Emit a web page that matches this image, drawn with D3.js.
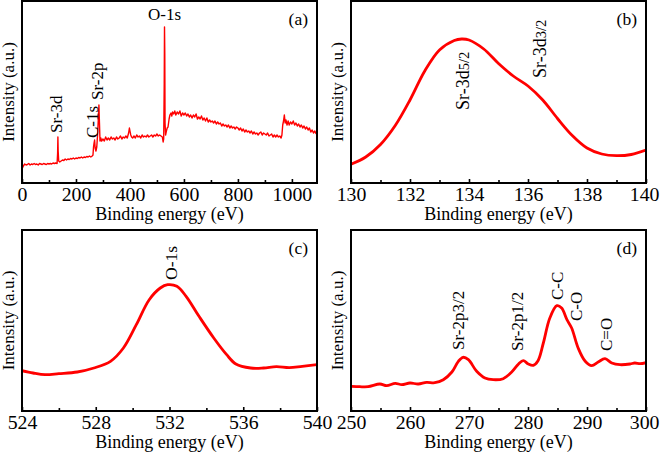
<!DOCTYPE html>
<html>
<head>
<meta charset="utf-8">
<script src="https://cdn.jsdelivr.net/npm/d3@7"></script>
<style>
  html, body { margin: 0; padding: 0; background: #fff; }
  svg { display: block; font-family: "Liberation Serif", "Times New Roman", serif; }
</style>
</head>
<body>
<svg id="chart" width="661" height="456"></svg>
<script>
// ---------------- DATA ----------------
// (a) XPS survey spectrum
const surveyEnergy = [0,5,10,15,20,25,30,35,40,45,50,55,60,65,70,75,80,85,90,95,100,105,110,115,120,125,130,132,133,134,136,140,145,150,155,160,165,170,175,180,185,190,195,200,205,210,215,220,225,230,235,240,245,250,255,260,263,265,267,269,271,274,277,280,283,285,287,289,292,295,300,305,310,315,320,325,330,335,340,345,350,355,360,365,370,375,380,385,390,395,398,400,403,406,410,415,420,425,430,435,440,445,450,455,460,465,470,475,480,485,490,495,500,505,510,515,520,523,525,527,528,529,530,532,535,538,541,545,548,552,555,558,562,566,570,575,580,585,590,595,600,605,610,615,620,625,630,635,640,645,650,655,660,665,670,675,680,685,690,695,700,705,710,715,720,725,730,735,740,745,750,755,760,765,770,775,780,785,790,795,800,805,810,815,820,825,830,835,840,845,850,855,860,865,870,875,880,885,890,895,900,905,910,915,920,925,930,935,940,945,950,955,960,963,966,969,972,975,978,982,986,990,995,1000,1005,1010,1015,1020,1025,1030,1035,1040,1045,1050,1055,1060,1065,1070,1075,1080,1085,1090];
const surveyIntensity = [14,17,19,18,18.5,19.5,18,19,18.5,19.5,18.5,19,18,19.5,19,18.5,19.5,19,18.5,19.5,19,19.5,19,20,19.5,20,19.5,30,46,32,22,21,22,23,22.5,24,23,24,23.5,24.5,24,25,24,25,24.5,25.5,25,26,25,26,25.5,26.5,26,27,26,27,28,36,40,43,35,32,36,48,65,78,60,42,45,42,44,42,46,43,45,43,46,44,45,43,46,44,45,47,44,46,45,47,45,50,55,52,48,46,45,47,45,48,46,47,45,48,46,47,46,48,46,47,48,46,48,47,49,47,48,47,46,41,44,100,156,130,60,48,52,55,56,64,68,70,67,71,69,72,68,71,69,72,67,70,68,70,67,69,66,68,65,68,66,69,64,66,64,67,63,65,62,65,61,63,61,62,60,62,59,61,59,60,57,59,57,58,56,58,55,57,55,56,54,56,55,53,55,52,54,51,53,51,52,50,52,49,51,49,50,48,50,51,48,50,49,48,50,47,48,49,46,48,46,48,46,47,45,48,58,62,68,60,63,58,62,58,61,59,62,58,60,57,59,56,58,55,57,54,56,53,55,51,53,50,52,49];

// (b) Sr-3d high-resolution spectrum
const sr3dEnergy = [130,130.5,131,131.5,132,132.5,133,133.5,133.75,134,134.5,135,135.5,136,136.5,137,137.5,138,138.5,139,139.5,140];
const sr3dIntensity = [18.7,26,38.5,57.5,83,112,133,142.5,144,143,134,119.5,107,97,83,64.5,47.5,35,29,27.3,28.5,33];

// (c) O-1s high-resolution spectrum
const o1sEnergy = [524,524.6,525.25,526,527,527.9,528.8,529.5,530.2,530.9,531.5,531.9,532.4,532.9,533.6,534.4,535.1,535.6,536.4,537.1,537.8,538.5,539.2,540];
const o1sIntensity = [40.3,38,36.3,37.3,39,43,49.7,63,86.3,111.3,123,126.3,124.7,114.7,94.7,73,56.3,47,43,43,44.3,43.3,44.7,46.3];

// (d) C-1s / Sr-2p high-resolution spectrum
const c1sEnergy = [250.1,251.5,252.9,254.9,256.05,257.5,258.6,260,261.4,262.8,264.2,265.65,267.1,268.2,269,269.9,271.3,272.7,274.1,275.8,277.2,278.4,279.2,280.05,280.9,281.7,282.6,283.7,284.9,285.7,286.6,287.4,288.5,289.7,290.8,291.9,293.05,294.2,295.6,297.3,298.1,299,300];
const c1sIntensity = [24.7,24.3,24.3,27,25.3,27.7,26.3,28,27,28.7,28.3,31.3,39,49.7,53.7,51.3,39.7,33,31.3,32.3,38.7,47,50.3,47,45.7,50.3,68,93,105.3,103,91.3,83,63,49.7,45.3,49,52.3,48,46.3,47,48,47.3,48.3];

// tick values
const surveyTicks = [0,200,400,600,800,1000];
const surveyMinor = [100,300,500,700,900];
const sr3dTicks = [130,132,134,136,138,140];
const sr3dMinor = [131,133,135,137,139];
const o1sTicks = [524,528,532,536,540];
const o1sMinor = [526,530,534,538];
const c1sTicks = [250,260,270,280,290,300];
const c1sMinor = [255,265,275,285,295];

// text
const panelLetters = ["(a)", "(b)", "(c)", "(d)"];
const xTitle = "Binding energy (eV)";
const yTitle = "Intensity (a.u.)";
// peak labels: [main text, suffix, energy, intensity]  (rotated, text starts at the point)
const surveyLabels = [["Sr-3d","",148,50],["C-1s","",280,45],["Sr-2p","",300,83]];
const sr3dLabels = [["Sr-3d","5/2",134.0,73],["Sr-3d","3/2",136.6,105]];
const o1sLabels = [["O-1s","",532.4,131]];
const c1sLabels = [["Sr-2p","3/2",269.1,61],["Sr-2p","1/2",279.2,60],["C-C","",285.9,111],["C-O","",289.15,90],["C=O","",294.2,60]];

// ---------------- DRAW ----------------
const svg = d3.select("#chart");
const RED = "#ff0000";
const W = 661;
const TICK_SX = 1.1;

const panels = [
  {x0:22, x1:317, y0:1, y1:183, dom:[0,1093], yDom:[0,182], e:surveyEnergy, v:surveyIntensity, ticks:surveyTicks, minor:surveyMinor, labels:surveyLabels, lw:1.4, letter:panelLetters[0], curve:d3.curveLinear, main:17, sub:17},
  {x0:351, x1:646, y0:1, y1:183, dom:[130,140], yDom:[0,182], e:sr3dEnergy, v:sr3dIntensity, ticks:sr3dTicks, minor:sr3dMinor, labels:sr3dLabels, lw:2.8, letter:panelLetters[1], curve:d3.curveCatmullRom, main:18, sub:14.5},
  {x0:22, x1:317, y0:230, y1:411, dom:[524,540], yDom:[0,181], e:o1sEnergy, v:o1sIntensity, ticks:o1sTicks, minor:o1sMinor, labels:o1sLabels, lw:2.8, letter:panelLetters[2], curve:d3.curveCatmullRom, main:17.5, sub:17},
  {x0:351, x1:646, y0:230, y1:411, dom:[250,300], yDom:[0,181], e:c1sEnergy, v:c1sIntensity, ticks:c1sTicks, minor:c1sMinor, labels:c1sLabels, lw:2.8, letter:panelLetters[3], curve:d3.curveCatmullRom, main:17, sub:17}
];

panels.forEach((p, idx) => {
  const x = d3.scaleLinear().domain(p.dom).range([p.x0, p.x1]);
  const y = d3.scaleLinear().domain(p.yDom).range([p.y1, p.y0]);
  const g = svg.append("g");

  const cid = "clip" + idx;
  svg.append("clipPath").attr("id", cid).append("rect")
    .attr("x", p.x0).attr("y", p.y0).attr("width", p.x1 - p.x0).attr("height", p.y1 - p.y0);

  const pts = p.e.map((e, i) => [e, p.v[i]]);
  g.append("path")
    .attr("clip-path", `url(#${cid})`)
    .attr("d", d3.line().x(d => x(d[0])).y(d => y(d[1])).curve(p.curve)(pts))
    .attr("fill", "none").attr("stroke", RED)
    .attr("stroke-width", p.lw).attr("stroke-linejoin", "round");

  // x axis major ticks (inward)
  const ax = g.append("g").attr("transform", `translate(0,${p.y1})`)
    .call(d3.axisBottom(x).tickValues(p.ticks).tickSize(-4).tickPadding(5).tickFormat(d3.format("d")));
  ax.select(".domain").remove();
  ax.selectAll(".tick line").attr("stroke", "#000").attr("stroke-width", 1.6);
  ax.selectAll(".tick text").attr("font-size", 18).attr("font-family", "Liberation Serif")
    .attr("fill", "#000").attr("transform", `scale(${TICK_SX},1)`);
  // keep edge labels inside the picture
  ax.selectAll(".tick").each(function(d) {
    const t = d3.select(this).select("text");
    const w = t.node().getComputedTextLength() * TICK_SX;
    const right = x(d) + w / 2;
    if (right > W - 2) t.attr("x", (W - 2 - right) / TICK_SX);
  });

  const mx = g.append("g").attr("transform", `translate(0,${p.y1})`)
    .call(d3.axisBottom(x).tickValues(p.minor).tickSize(-3).tickFormat(""));
  mx.select(".domain").remove();
  mx.selectAll(".tick line").attr("stroke", "#000").attr("stroke-width", 1.6);

  // frame
  g.append("rect").attr("x", p.x0).attr("y", p.y0)
    .attr("width", p.x1 - p.x0).attr("height", p.y1 - p.y0)
    .attr("fill", "none").attr("stroke", "#000").attr("stroke-width", 2);

  // x title
  g.append("text").attr("x", (p.x0 + p.x1) / 2).attr("y", p.y1 + 37)
    .attr("text-anchor", "middle").attr("font-size", 18).text(xTitle);

  // y title
  g.append("text")
    .attr("transform", `translate(${p.x0 - 8.5},${(p.y0 + p.y1) / 2}) rotate(-90)`)
    .attr("text-anchor", "middle").attr("font-size", 17).text(yTitle);

  // panel letter
  g.append("text").attr("x", p.x1 - 9).attr("y", p.y0 + 24)
    .attr("text-anchor", "end").attr("font-size", 17.5).text(p.letter);

  // peak labels
  p.labels.forEach(l => {
    const t = g.append("text")
      .attr("transform", `translate(${x(l[2])},${y(l[3])}) rotate(-90)`)
      .attr("font-size", p.main);
    t.append("tspan").text(l[0]);
    if (l[1]) t.append("tspan").attr("font-size", p.sub).text(l[1]);
  });
});

// horizontal O-1s label in survey
{
  const p = panels[0];
  const x = d3.scaleLinear().domain(p.dom).range([p.x0, p.x1]);
  const y = d3.scaleLinear().domain(p.yDom).range([p.y1, p.y0]);
  svg.append("text").attr("x", x(528)).attr("y", y(163))
    .attr("text-anchor", "middle").attr("font-size", 17).text("O-1s");
}
</script>
</body>
</html>
